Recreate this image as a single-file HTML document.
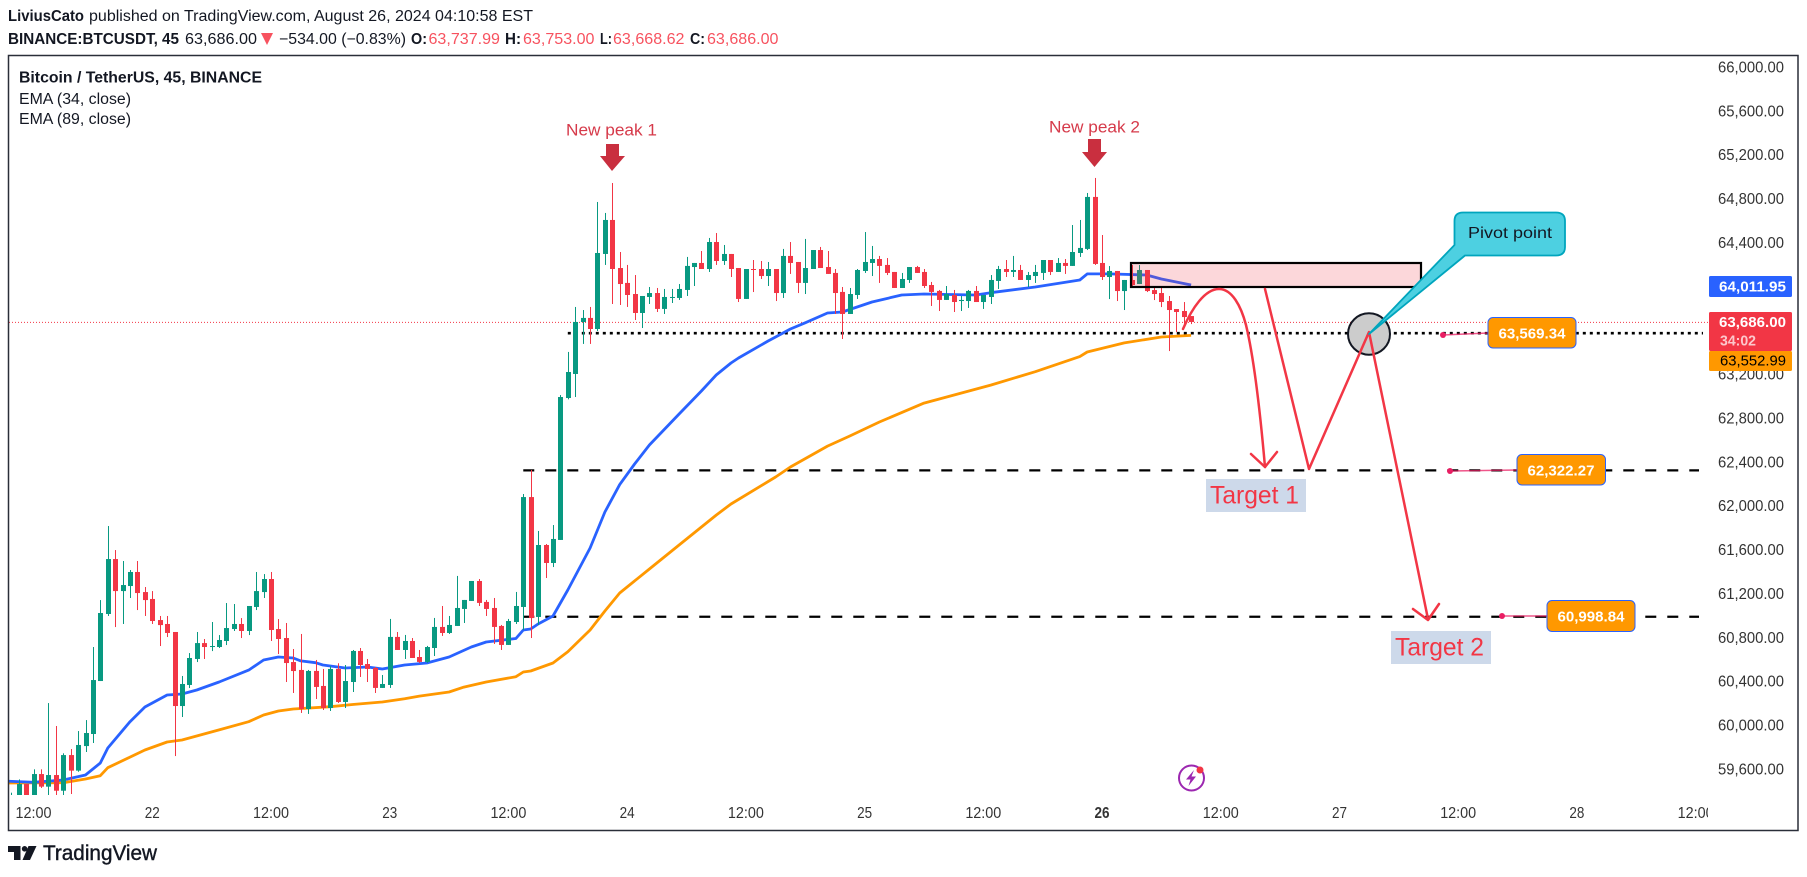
<!DOCTYPE html>
<html lang="en">
<head>
<meta charset="utf-8">
<title>BTCUSDT 45 chart</title>
<style>
html,body{margin:0;padding:0;background:#fff;width:1807px;height:877px;overflow:hidden}
svg{display:block;font-family:"Liberation Sans",sans-serif}
</style>
</head>
<body>
<svg id="chart" width="1807" height="877" viewBox="0 0 1807 877" xmlns="http://www.w3.org/2000/svg">
<defs>
<clipPath id="pane-clip"><rect x="9" y="56" width="1699" height="739"/></clipPath>
<clipPath id="time-clip"><rect x="9" y="796" width="1699" height="33"/></clipPath>
</defs>
<rect x="0" y="0" width="1807" height="877" fill="#ffffff"/>

<g font-size="15.5" fill="#131722">
<text x="8" y="21" font-weight="700" textLength="76" lengthAdjust="spacingAndGlyphs">LiviusCato</text>
<text x="89" y="21" textLength="444" lengthAdjust="spacingAndGlyphs">published on TradingView.com, August 26, 2024 04:10:58 EST</text>
<text x="8" y="44" font-weight="700" textLength="171" lengthAdjust="spacingAndGlyphs">BINANCE:BTCUSDT, 45</text>
<text x="185" y="44" textLength="72" lengthAdjust="spacingAndGlyphs">63,686.00</text>
<polygon points="261,33 273,33 267,45" fill="#f7525f"/>
<text x="279" y="44" textLength="127" lengthAdjust="spacingAndGlyphs">−534.00 (−0.83%)</text>
<text x="411" y="44" font-weight="700" textLength="16" lengthAdjust="spacingAndGlyphs">O:</text>
<text x="428.5" y="44" fill="#f7525f" textLength="71.5" lengthAdjust="spacingAndGlyphs">63,737.99</text>
<text x="505" y="44" font-weight="700" textLength="16" lengthAdjust="spacingAndGlyphs">H:</text>
<text x="523" y="44" fill="#f7525f" textLength="71.5" lengthAdjust="spacingAndGlyphs">63,753.00</text>
<text x="600" y="44" font-weight="700" textLength="12" lengthAdjust="spacingAndGlyphs">L:</text>
<text x="613" y="44" fill="#f7525f" textLength="71.5" lengthAdjust="spacingAndGlyphs">63,668.62</text>
<text x="690" y="44" font-weight="700" textLength="15" lengthAdjust="spacingAndGlyphs">C:</text>
<text x="707" y="44" fill="#f7525f" textLength="71.5" lengthAdjust="spacingAndGlyphs">63,686.00</text>
</g>

<g clip-path="url(#pane-clip)">
<line id="price-line" x1="9" x2="1709" stroke="#f23645" stroke-width="1" stroke-dasharray="1 2"/>
<g id="level-lines"></g>
<g id="ema-lines"></g>
<g id="candles"></g>
</g>

<rect x="1131" y="263" width="290" height="24" fill="#f23645" fill-opacity="0.2" stroke="#000" stroke-width="2.2"/>

<g>
<text x="566" y="135.5" font-size="16.5" fill="#d63a4a" textLength="91" lengthAdjust="spacingAndGlyphs">New peak 1</text>
<polygon points="606,144 619,144 619,156 625,156 612,171 600,156 606,156" fill="#c92f3f"/>
</g>
<g>
<text x="1049" y="132.5" font-size="16.5" fill="#d63a4a" textLength="91" lengthAdjust="spacingAndGlyphs">New peak 2</text>
<polygon points="1088,139 1101,139 1101,152 1107,152 1094.5,167 1082,152 1088,152" fill="#c92f3f"/>
</g>

<ellipse cx="1369" cy="334" rx="21" ry="20.7" fill="#cccccc" stroke="#131722" stroke-width="2"/>

<g fill="none" stroke="#f23645" stroke-width="2.5" stroke-linecap="round" stroke-linejoin="round">
<path d="M1183 329 C1192 308 1205 289 1219 289 C1232 289 1241 306 1246 325 C1254 358 1260 410 1265 467"/>
<path d="M1251 454 L1265 467 L1277 452"/>
<path d="M1265 289 L1309 469 L1369 332 L1428 619"/>
<path d="M1413 609 L1428 620 L1439 604"/>
</g>

<g>
<path d="M1463 212.5 H1556 Q1565 212.5 1565 221 V247 Q1565 255.5 1556 255.5 H1465 L1369 334 L1454.5 245 V221 Q1454.5 212.5 1463 212.5 Z" fill="#4dd0e1" stroke="#00a5bd" stroke-width="1.8" stroke-linejoin="round"/>
<text x="1510" y="238" font-size="16" fill="#131722" text-anchor="middle" textLength="84" lengthAdjust="spacingAndGlyphs">Pivot point</text>
</g>

<g>
<line x1="1443" y1="335" x2="1488" y2="333" stroke="#e91e63" stroke-opacity="0.75" stroke-width="1.5"/>
<circle cx="1443" cy="335" r="3" fill="#e91e63"/>
<rect x="1488" y="317.5" width="88" height="30.5" rx="5" fill="#ff9800" stroke="#2962ff" stroke-width="1"/>
<text x="1532" y="338.5" font-size="15" font-weight="700" fill="#fff" text-anchor="middle" textLength="67" lengthAdjust="spacingAndGlyphs">63,569.34</text>
</g>
<g>
<line x1="1450" y1="471" x2="1517" y2="470" stroke="#e91e63" stroke-opacity="0.75" stroke-width="1.5"/>
<circle cx="1450" cy="471" r="3" fill="#e91e63"/>
<rect x="1517" y="454.5" width="88.5" height="30.5" rx="5" fill="#ff9800" stroke="#2962ff" stroke-width="1"/>
<text x="1561" y="475.5" font-size="15" font-weight="700" fill="#fff" text-anchor="middle" textLength="67" lengthAdjust="spacingAndGlyphs">62,322.27</text>
</g>
<g>
<line x1="1502" y1="616" x2="1547" y2="616" stroke="#e91e63" stroke-opacity="0.75" stroke-width="1.5"/>
<circle cx="1502" cy="616" r="3" fill="#e91e63"/>
<rect x="1547" y="600.5" width="88" height="31" rx="5" fill="#ff9800" stroke="#2962ff" stroke-width="1"/>
<text x="1591" y="621.5" font-size="15" font-weight="700" fill="#fff" text-anchor="middle" textLength="67" lengthAdjust="spacingAndGlyphs">60,998.84</text>
</g>

<g>
<rect x="1206" y="479" width="100" height="33" fill="#cdd9ea"/>
<text x="1210" y="503.5" font-size="25" fill="#f23645" textLength="89" lengthAdjust="spacingAndGlyphs">Target 1</text>
</g>
<g>
<rect x="1391" y="631" width="100" height="33" fill="#cdd9ea"/>
<text x="1395" y="655.5" font-size="25" fill="#f23645" textLength="89" lengthAdjust="spacingAndGlyphs">Target 2</text>
</g>

<g font-size="15.5" fill="#131722">
<text x="19" y="82.5" font-weight="700" textLength="243" lengthAdjust="spacingAndGlyphs">Bitcoin / TetherUS, 45, BINANCE</text>
<text x="19" y="104" textLength="112" lengthAdjust="spacingAndGlyphs">EMA (34, close)</text>
<text x="19" y="124" textLength="112" lengthAdjust="spacingAndGlyphs">EMA (89, close)</text>
</g>

<g>
<circle cx="1191.5" cy="778" r="12.5" fill="none" stroke="#9c27b0" stroke-width="2"/>
<polygon points="1194,770 1186,779.5 1190.5,779.5 1188.5,786 1196,776.5 1191.5,776.5" fill="#9c27b0"/>
<circle cx="1200" cy="770" r="3.5" fill="#f23645"/>
</g>

<g id="y-axis"></g>
<g id="x-axis" clip-path="url(#time-clip)"></g>

<g font-size="15">
<rect x="1709" y="276" width="83" height="21" rx="1.5" fill="#2962ff"/>
<text x="1719" y="291.5" fill="#fff" font-weight="700" textLength="67" lengthAdjust="spacingAndGlyphs">64,011.95</text>
<rect x="1709" y="312" width="83" height="39" rx="1.5" fill="#f23645"/>
<text x="1719" y="327" fill="#fff" font-weight="700" textLength="67" lengthAdjust="spacingAndGlyphs">63,686.00</text>
<text x="1720" y="345.5" fill="#fcc8cc" font-weight="700" textLength="36" lengthAdjust="spacingAndGlyphs">34:02</text>
<rect x="1709" y="351" width="83" height="20" rx="1.5" fill="#ff9800"/>
<text x="1720" y="365.5" fill="#000" textLength="66" lengthAdjust="spacingAndGlyphs">63,552.99</text>
</g>

<rect x="8.5" y="55.5" width="1789.5" height="775" fill="none" stroke="#2a2e39" stroke-width="1.5"/>

<g fill="#131722">
<path d="M8 846 H20.5 V860 H14 V852 H8 Z"/>
<circle cx="24.6" cy="848.8" r="2.8"/>
<polygon points="28.5,846 36.5,846 30,860 22.5,860"/>
<text x="43" y="860" font-size="21" stroke="#131722" stroke-width="0.4" textLength="114" lengthAdjust="spacingAndGlyphs">TradingView</text>
</g>
</svg>

<script>
const opens = [
59300,59300,59463,59320,59554,59439,59545,59402,59727,59585,
59809,59919,60402,61013,61514,61222,61268,61396,61213,61150,
60958,60922,60849,60174,60366,60603,60748,60712,60712,60767,
60876,60922,60858,61077,61213,61332,60876,60794,60575,60503,
60147,60494,60357,60156,60512,60211,60393,60676,60557,60521,
60339,60366,60804,60685,60767,60621,60576,60703,60895,60840,
60904,61059,61132,61314,61123,61068,60904,60731,60940,61077,
62079,60986,61642,61478,61688,62982,63201,63675,63712,63611,
64295,64605,64167,64031,63930,63757,63903,63939,63794,63894,
63894,63967,64176,64213,64158,64404,64231,64295,64167,63885,
64158,64158,64094,64158,63939,64277,64222,64031,64158,64331,
64176,64122,63949,63748,63921,64140,64213,64249,64195,64131,
63985,64058,64176,64131,64012,63958,63876,63921,63866,63866,
63958,63857,63903,64049,64158,64131,64149,64058,64094,64122,
64240,64131,64213,64186,64304,64341,64815,64213,64085,64140,
63957,64058,64021,64149,63966,63939,63866,63793,63775,63729
];
const highs = [
59384,59505,59463,59597,59597,60201,59992,59743,59782,59946,
60046,60712,61140,61815,61596,61496,61414,61496,61259,61222,
60995,60995,60849,60448,60657,60849,60785,60940,60821,61113,
61104,60976,61086,61396,61377,61396,60967,60931,60694,60831,
60503,60594,60512,60539,60564,60548,60685,60703,60603,60530,
60457,60968,60849,60822,60794,60685,60722,60977,61086,60995,
61360,61141,61314,61332,61141,61159,60913,60968,61214,62107,
62326,61770,61651,61824,63009,63402,63812,63784,63812,64769,
64669,64942,64313,64195,64103,63912,63994,63985,63976,63976,
64021,64268,64213,64322,64441,64486,64377,64295,64167,64158,
64240,64231,64222,64158,64341,64404,64222,64432,64331,64359,
64322,64158,63994,63985,64158,64495,64368,64277,64258,64131,
64122,64176,64186,64158,64040,63967,64003,63967,63912,63967,
64003,63921,64103,64186,64240,64277,64195,64131,64195,64240,
64240,64258,64249,64559,64605,64851,64988,64468,64185,64140,
64058,64194,64194,64149,64003,64003,63912,63793,63857,63729
];
const lows = [
59280,59280,59300,59300,59427,59340,59340,59340,59372,59575,
59755,59837,60402,60995,60894,60922,61159,61049,60995,60922,
60721,60803,59718,60074,60338,60575,60603,60675,60703,60730,
60858,60794,60821,61049,61159,60767,60648,60393,60293,60111,
60102,60238,60138,60129,60202,60156,60302,60439,60393,60293,
60339,60339,60685,60603,60612,60567,60567,60630,60813,60831,
60904,60931,61132,61086,60995,60740,60685,60731,60922,60867,
60794,60913,61341,61441,61688,62970,62991,63475,63475,63593,
64195,63839,63830,63812,63693,63620,63839,63766,63748,63848,
63876,63912,64003,64158,64131,64195,64195,64085,63857,63885,
63948,64067,64003,63866,63894,64113,63939,63930,64158,64167,
64113,63748,63520,63748,63885,64122,64094,64031,64103,63985,
63985,64031,64122,63985,63821,63775,63876,63766,63775,63803,
63857,63794,63839,63976,64085,64085,64058,63994,64031,64058,
64103,64131,64113,64186,64268,64331,64195,64058,63884,63866,
63784,63994,64021,63948,63875,63811,63410,63584,63656,63656
];
const closes = [
59340,59463,59320,59554,59439,59545,59402,59727,59585,59819,
59928,60411,61022,61514,61222,61277,61396,61204,61140,60949,
60912,60840,60174,60375,60612,60748,60712,60721,60776,60885,
60922,60858,61086,61222,61332,60867,60785,60566,60493,60147,
60494,60348,60156,60512,60211,60402,60676,60548,60512,60339,
60375,60804,60685,60767,60612,60576,60712,60895,60840,60913,
61068,61141,61314,61114,61059,60895,60731,60949,61086,62079,
60976,61642,61478,61697,62991,63219,63675,63712,63611,64304,
64605,64158,64021,63921,63757,63912,63939,63794,63903,63903,
63976,64186,64213,64158,64404,64231,64295,64158,63885,64158,
64149,64094,64158,63939,64277,64213,64031,64167,64331,64167,
64113,63939,63748,63930,64149,64222,64249,64186,64122,63985,
64067,64176,64122,64003,63949,63876,63930,63857,63876,63958,
63857,63921,64058,64158,64131,64149,64058,64103,64131,64240,
64131,64213,64186,64313,64350,64815,64204,64085,64140,63957,
64058,64012,64149,63957,63930,63857,63784,63766,63720,63675
];

const ema34Bars = [-1,3,7,10,12,13,16,18,21,23,25,28,32,34,36,38,39,41,42,45,48,50,53,56,59,62,64,68,69,70,71,73,75,78,80,82,84,86,90,93,95,97,98,102,103,105,107,110,112,116,120,123,130,132,138,144,145,148,153,155,159];
const ema34Values = [59491,59479,59500,59545,59655,59791,60031,60165,60275,60284,60320,60393,60502,60594,60621,60612,60585,60569,60548,60521,60530,60512,60548,60566,60621,60712,60758,60790,60867,60876,60922,60995,61232,61615,61943,62193,62380,62554,62836,63046,63192,63301,63347,63502,63538,63611,63668,63757,63766,63857,63921,63930,63921,63942,63994,64058,64113,64113,64103,64067,64012];
const ema89Bars = [-1,7,10,12,13,18,21,23,28,32,34,36,38,43,46,50,53,55,59,61,64,68,69,70,73,75,78,80,82,86,90,95,97,103,105,110,113,117,123,132,138,144,145,150,155,159];
const ema89Values = [59472,59475,59509,59539,59612,59773,59846,59864,59956,60031,60092,60129,60147,60168,60188,60211,60241,60265,60302,60347,60393,60441,60484,60493,60566,60669,60867,61040,61204,61423,61642,61915,62016,62262,62353,62544,62636,62763,62936,63100,63222,63359,63401,63484,63538,63553];

const priceTicks = [66000,65600,65200,64800,64400,64000,63600,63200,62800,62400,62000,61600,61200,60800,60400,60000,59600];
const priceTickLabels = ['66,000.00','65,600.00','65,200.00','64,800.00','64,400.00','64,000.00','63,600.00','63,200.00','62,800.00','62,400.00','62,000.00','61,600.00','61,200.00','60,800.00','60,400.00','60,000.00','59,600.00'];
const timeTickBars = [3,19,35,51,67,83,99,115,131,147,163,179,195,211,227];
const timeTickLabels = ['12:00','22','12:00','23','12:00','24','12:00','25','12:00','26','12:00','27','12:00','28','12:00'];

const lastPriceLevel = 63672;
const pivotLevel = 63573;
const target1Level = 62322.27;
const target2Level = 60988;
const pivotStartBar = 75;
const target1StartBar = 69;
const target2StartBar = 69;

const SVG_NS = 'http://www.w3.org/2000/svg';
function xScale(bar) { return 11.3 + bar * 7.42; }
function yScale(price) { return 769 - (price - 59600) / 9.116; }

const candleLayer = document.getElementById('candles');
for (let i = 0; i < opens.length; i++) {
  const up = closes[i] >= opens[i];
  const color = up ? '#089981' : '#f23645';
  const cx = Math.round(xScale(i));
  const wick = document.createElementNS(SVG_NS, 'rect');
  
  
  wick.setAttribute('x', cx);
  wick.setAttribute('width', 1);
  wick.setAttribute('y', yScale(highs[i]));
  wick.setAttribute('height', Math.max(1, yScale(lows[i]) - yScale(highs[i])));
  wick.setAttribute('fill', color);
  candleLayer.appendChild(wick);
  const top = yScale(Math.max(opens[i], closes[i]));
  const bottom = yScale(Math.min(opens[i], closes[i]));
  const body = document.createElementNS(SVG_NS, 'rect');
  
  
  body.setAttribute('x', cx - 2);
  body.setAttribute('width', 5);
  body.setAttribute('y', top);
  body.setAttribute('height', Math.max(1, bottom - top));
  body.setAttribute('fill', color);
  candleLayer.appendChild(body);
}

const emaLayer = document.getElementById('ema-lines');
const ema89Line = document.createElementNS(SVG_NS, 'polyline');


ema89Line.setAttribute('points', ema89Bars.map((b, k) => xScale(b).toFixed(1) + ',' + yScale(ema89Values[k]).toFixed(1)).join(' '));
ema89Line.setAttribute('fill', 'none');
ema89Line.setAttribute('stroke', '#ff9800');
ema89Line.setAttribute('stroke-width', '2.8');
ema89Line.setAttribute('stroke-linejoin', 'round');
emaLayer.appendChild(ema89Line);
const ema34Line = document.createElementNS(SVG_NS, 'polyline');


ema34Line.setAttribute('points', ema34Bars.map((b, k) => xScale(b).toFixed(1) + ',' + yScale(ema34Values[k]).toFixed(1)).join(' '));
ema34Line.setAttribute('fill', 'none');
ema34Line.setAttribute('stroke', '#2962ff');
ema34Line.setAttribute('stroke-width', '2.8');
ema34Line.setAttribute('stroke-linejoin', 'round');
emaLayer.appendChild(ema34Line);

document.getElementById('price-line').setAttribute('y1', yScale(lastPriceLevel));
document.getElementById('price-line').setAttribute('y2', yScale(lastPriceLevel));

const levelLayer = document.getElementById('level-lines');
const pivotLine = document.createElementNS(SVG_NS, 'line');


pivotLine.setAttribute('x1', xScale(pivotStartBar));
pivotLine.setAttribute('x2', 1703);
pivotLine.setAttribute('y1', yScale(pivotLevel));
pivotLine.setAttribute('y2', yScale(pivotLevel));
pivotLine.setAttribute('stroke', '#000');
pivotLine.setAttribute('stroke-width', '2.6');
pivotLine.setAttribute('stroke-dasharray', '3 4');
levelLayer.appendChild(pivotLine);
const target1Line = document.createElementNS(SVG_NS, 'line');


target1Line.setAttribute('x1', xScale(target1StartBar));
target1Line.setAttribute('x2', 1699);
target1Line.setAttribute('y1', yScale(target1Level));
target1Line.setAttribute('y2', yScale(target1Level));
target1Line.setAttribute('stroke', '#000');
target1Line.setAttribute('stroke-width', '2.2');
target1Line.setAttribute('stroke-dasharray', '11 11');
levelLayer.appendChild(target1Line);
const target2Line = document.createElementNS(SVG_NS, 'line');


target2Line.setAttribute('x1', xScale(target2StartBar));
target2Line.setAttribute('x2', 1699);
target2Line.setAttribute('y1', yScale(target2Level));
target2Line.setAttribute('y2', yScale(target2Level));
target2Line.setAttribute('stroke', '#000');
target2Line.setAttribute('stroke-width', '2.2');
target2Line.setAttribute('stroke-dasharray', '11 11');
levelLayer.appendChild(target2Line);

const yAxisLayer = document.getElementById('y-axis');
priceTicks.forEach((p, k) => {
  const t = document.createElementNS(SVG_NS, 'text');
  
  
  t.setAttribute('x', 1718);
  t.setAttribute('y', yScale(p) + 5.5);
  t.setAttribute('font-size', '15.5');
  t.setAttribute('fill', '#333');
  t.setAttribute('textLength', '66');
  t.setAttribute('lengthAdjust', 'spacingAndGlyphs');
  t.textContent = priceTickLabels[k];
  yAxisLayer.appendChild(t);
});

const xAxisLayer = document.getElementById('x-axis');
timeTickBars.forEach((b, k) => {
  const t = document.createElementNS(SVG_NS, 'text');
  
  
  t.setAttribute('x', xScale(b));
  t.setAttribute('y', 818);
  t.setAttribute('font-size', '15.5');
  t.setAttribute('fill', '#333');
  t.setAttribute('text-anchor', 'middle');
  t.setAttribute('textLength', timeTickLabels[k].length > 2 ? '36' : '15');
  t.setAttribute('lengthAdjust', 'spacingAndGlyphs');
  if (timeTickLabels[k] === '26') {
    t.setAttribute('font-weight', '700');
  }
  t.textContent = timeTickLabels[k];
  xAxisLayer.appendChild(t);
});
</script>
</body>
</html>
